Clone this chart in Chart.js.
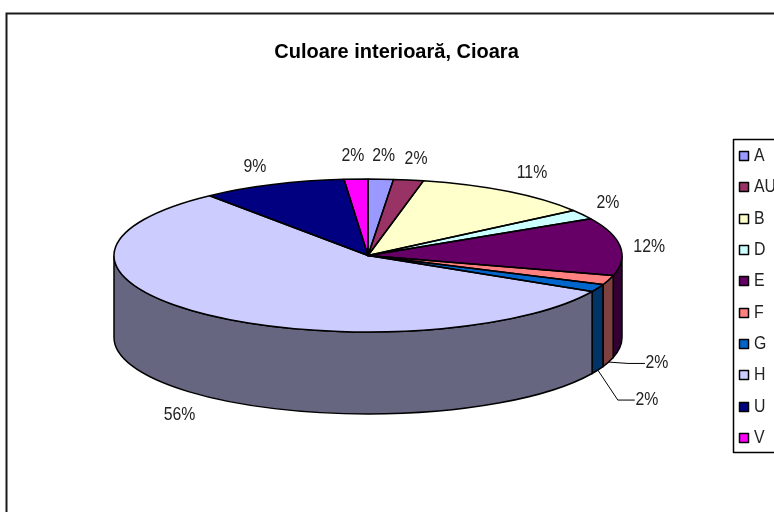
<!DOCTYPE html>
<html><head><meta charset="utf-8">
<style>html,body{margin:0;padding:0;background:#fff}canvas{display:block}</style>
<script src="https://cdn.jsdelivr.net/npm/chart.js@4"></script>
</head><body>
<div style="width:774px;height:512px"><canvas id="c" width="774" height="512"></canvas></div>
<script>
const categories = ['A','AU','B','D','E','F','G','H','U','V'];
const values = [1.6,1.9,11.49,2.01,12.2,2,1.6,56.49,9.2,1.51];
const colors = ['#9999FF','#993366','#FFFFCC','#CCFFFF','#660066','#FF8080','#0066CC','#CCCCFF','#000080','#FF00FF'];
const labelNudgeX = [3,7.5,24.6,25.5,29,48.4,49,-26,-18,-3];
const labelNudgeY = [-22.6,-20.5,-19,-11,0.6,1.4,30,19,-18,-22.6];
const leaderFlags = [0,0,0,0,0,1,1,0,0,0];
const FONT = '"Liberation Sans", Arial, sans-serif';
const P = {cx:368, cy:255.5, rx:254, ry:76.5, depth:82};
const shade = h => { const n=parseInt(h.slice(1),16);
  return `rgb(${(n>>16)*0.5|0},${((n>>8)&255)*0.5|0},${Math.ceil((n&255)*0.5)})`; };
// text is drawn slightly narrower than tall, as in the source picture
function tallText(c,t,x,y){ c.save(); c.translate(x,y); c.scale(0.88,1); c.fillText(t,0,0); c.restore(); }
const pie3d = {
  id:'pie3d',
  beforeDraw(chart){
    const c=chart.ctx; c.save();
    c.fillStyle='#fff'; c.fillRect(0,0,774,512);
    c.strokeStyle='#1a1a1a'; c.lineWidth=2; c.strokeRect(6.5,13.5,900,900);
    c.restore();
  },
  beforeDatasetsDraw(chart){
    const c=chart.ctx, arcs=chart.getDatasetMeta(0).data;
    c.save(); c.lineWidth=1.5; c.strokeStyle='#000';
    arcs.forEach((a,i)=>{
      const s=Math.max(a.startAngle,0), e=Math.min(a.endAngle,Math.PI);
      if(e<=s) return;
      c.beginPath();
      c.ellipse(P.cx,P.cy,P.rx,P.ry,0,s,e);
      c.ellipse(P.cx,P.cy+P.depth,P.rx,P.ry,0,e,s,true);
      c.closePath();
      c.fillStyle=shade(colors[i]); c.fill(); c.stroke();
    });
    c.restore();
    c.save();
    const a=arcs[0], k=P.rx/a.outerRadius, m=P.ry/a.outerRadius;
    c.translate(P.cx,P.cy); c.scale(k,m); c.translate(-a.x,-a.y);
  },
  afterDatasetsDraw(chart){
    const c=chart.ctx, arcs=chart.getDatasetMeta(0).data;
    c.restore();
    c.save(); c.lineWidth=1.5; c.strokeStyle='#000'; c.lineJoin='round';
    arcs.forEach(a=>{
      c.beginPath(); c.moveTo(P.cx,P.cy);
      c.ellipse(P.cx,P.cy,P.rx,P.ry,0,a.startAngle,a.endAngle);
      c.closePath(); c.stroke();
    });
    c.font='18px '+FONT; c.textAlign='center'; c.textBaseline='middle'; c.fillStyle='#222';
    arcs.forEach((a,i)=>{
      const mid=(a.startAngle+a.endAngle)/2;
      const sin=Math.sin(mid);
      const ax=P.cx+P.rx*Math.cos(mid), ay=P.cy+P.ry*sin+(sin>0.1?P.depth:0);
      const lx=ax+labelNudgeX[i], ly=ay+labelNudgeY[i];
      if(leaderFlags[i]){
        c.beginPath(); c.lineWidth=1; c.moveTo(ax,ay); c.lineTo(lx-29,ly); c.lineTo(lx-12,ly); c.stroke();
      }
      tallText(c,Math.round(values[i])+'%',lx,ly);
    });
    // legend
    c.fillStyle='#fff'; c.strokeStyle='#000'; c.lineWidth=1.5;
    c.fillRect(733.5,139.5,200,313); c.strokeRect(733.5,139.5,200,313);
    c.textAlign='left'; c.lineWidth=1.5;
    categories.forEach((t,i)=>{
      const y=156+i*31.33;
      c.fillStyle=colors[i]; c.fillRect(739.5,Math.round(y)-4.5,9,9); c.strokeStyle='#000'; c.strokeRect(739.5,Math.round(y)-4.5,9,9);
      c.fillStyle='#222'; tallText(c,t,754,y);
    });
    c.restore();
  }
};
new Chart(document.getElementById('c'),{
  type:'pie',
  data:{labels:categories,datasets:[{data:values,backgroundColor:colors,borderWidth:0}]},
  options:{
    responsive:false,animation:false,
    layout:{padding:{left:19,right:0}},
    plugins:{
      legend:{display:false},tooltip:{enabled:false},
      title:{display:true,text:'Culoare interioară, Cioara',fullSize:false,color:'#000',
        font:{family:FONT,size:20,weight:'bold'},padding:{top:40,bottom:4}}
    }
  },
  plugins:[pie3d]
});
</script>
</body></html>
